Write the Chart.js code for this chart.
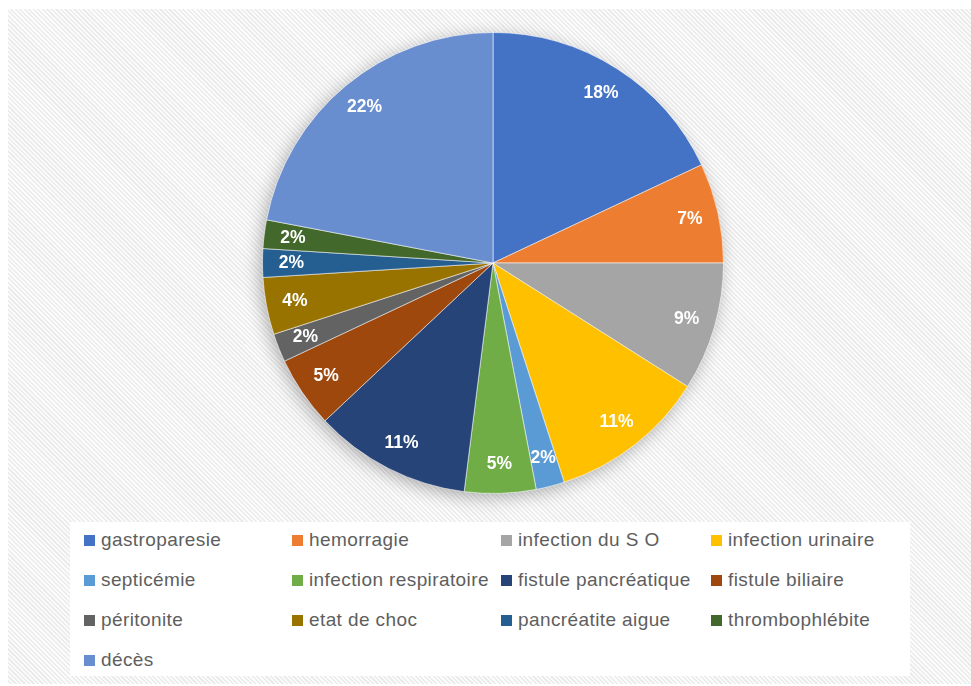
<!DOCTYPE html>
<html lang="fr">
<head>
<meta charset="utf-8">
<title>Complications</title>
<script src="https://cdn.jsdelivr.net/npm/chart.js@4.4.1/dist/chart.umd.min.js"></script>
<style>
  html, body { margin: 0; padding: 0; background: #ffffff; }
  #page {
    position: relative; width: 971px; height: 686px; overflow: hidden;
    background: #ffffff;
  }
  #frame {
    position: absolute; left: 8px; top: 9px; right: 0; bottom: 2px;
    background: repeating-linear-gradient(45deg, #fcfcfc 0px, #fcfcfc 1.6px, #ececec 1.6px, #ececec 3.2px);
  }
  #chartBox { position: absolute; left: 0; top: 0; width: 971px; height: 686px; }
  #legendBox {
    position: absolute; left: 70px; top: 522px; width: 840px; height: 154px;
    background: #ffffff;
  }
  .item {
    position: absolute; height: 24px; line-height: 24px;
    font-family: "Liberation Sans", Arial, sans-serif; font-size: 19px;
    letter-spacing: 0.4px;
    color: #5e5e5e; white-space: nowrap;
  }
  .item i {
    display: inline-block; width: 11px; height: 11px; margin-right: 6px;
    vertical-align: 0px;
  }
</style>
</head>
<body>
<div id="page">
  <div id="frame"></div>
  <div id="chartBox"><canvas id="pie"></canvas></div>
  <div id="legendBox"></div>
</div>
<script>
// Complication categories and their share (%)
const categories = [
  "gastroparesie", "hemorragie", "infection du S O", "infection urinaire",
  "septicémie", "infection respiratoire", "fistule pancréatique", "fistule biliaire",
  "péritonite", "etat de choc", "pancréatite aigue", "thrombophlébite", "décès"
];
const percentages = [18, 7, 9, 11, 2, 5, 11, 5, 2, 4, 2, 2, 22];
const sliceColors = [
  "#4472C4", "#ED7D31", "#A5A5A5", "#FFC000",
  "#5B9BD5", "#70AD47", "#264478", "#9E480E",
  "#636363", "#997300", "#255E91", "#43682B", "#698ED0"
];

// Soft drop shadow under the whole pie (drawn once, below the slices)
const pieShadow = {
  id: "pieShadow",
  beforeDatasetsDraw(chart) {
    const arc = chart.getDatasetMeta(0).data[0];
    if (!arc) return;
    const { x, y, outerRadius } = arc.getProps(["x", "y", "outerRadius"], true);
    const ctx = chart.ctx;
    ctx.save();
    ctx.shadowColor = "rgba(0,0,0,0.32)";
    ctx.shadowBlur = 18;
    ctx.shadowOffsetX = -3;
    ctx.shadowOffsetY = 4;
    ctx.beginPath();
    ctx.arc(x, y, outerRadius - 1, 0, Math.PI * 2);
    ctx.fillStyle = "#7f8fa8";
    ctx.fill();
    ctx.restore();
  }
};

// Percentage labels inside each slice
const sliceLabels = {
  id: "sliceLabels",
  afterDatasetsDraw(chart) {
    const meta = chart.getDatasetMeta(0);
    const values = chart.data.datasets[0].data;
    const ctx = chart.ctx;
    ctx.save();
    ctx.font = "bold 17.5px 'Liberation Sans', Arial, sans-serif";
    ctx.fillStyle = "#ffffff";
    ctx.textAlign = "center";
    ctx.textBaseline = "middle";
    meta.data.forEach((arc, i) => {
      const p = arc.getProps(["x", "y", "startAngle", "endAngle", "outerRadius"], true);
      const mid = (p.startAngle + p.endAngle) / 2;
      const r = p.outerRadius * 0.875;
      ctx.fillText(values[i] + "%", p.x + Math.cos(mid) * r, p.y + Math.sin(mid) * r);
    });
    ctx.restore();
  }
};

const chart = new Chart(document.getElementById("pie"), {
  type: "pie",
  data: {
    labels: categories,
    datasets: [{
      data: percentages,
      backgroundColor: sliceColors,
      borderColor: "rgba(255,255,255,0.55)",
      borderWidth: 1,
      hoverBorderWidth: 1,
      hoverOffset: 0
    }]
  },
  options: {
    responsive: true,
    maintainAspectRatio: false,
    animation: false,
    layout: { padding: { left: 262, right: 247, top: 32, bottom: 192 } },
    plugins: {
      legend: { display: false },
      tooltip: { enabled: false }
    },
    events: []
  },
  plugins: [pieShadow, sliceLabels]
});

// Legend in four columns, built from the chart's own legend items
const legendBox = document.getElementById("legendBox");
const gen = (chart.options.plugins.legend.labels.generateLabels ||
             Chart.overrides.pie.plugins.legend.labels.generateLabels);
const legendItems = gen(chart);
const colLeft = [14, 222, 431, 641];
legendItems.forEach((it, i) => {
  const el = document.createElement("div");
  el.className = "item";
  el.style.left = colLeft[i % 4] + "px";
  el.style.top = (6 + Math.floor(i / 4) * 40) + "px";
  const sw = document.createElement("i");
  sw.style.background = it.fillStyle;
  el.appendChild(sw);
  el.appendChild(document.createTextNode(it.text));
  legendBox.appendChild(el);
});
</script>
</body>
</html>
